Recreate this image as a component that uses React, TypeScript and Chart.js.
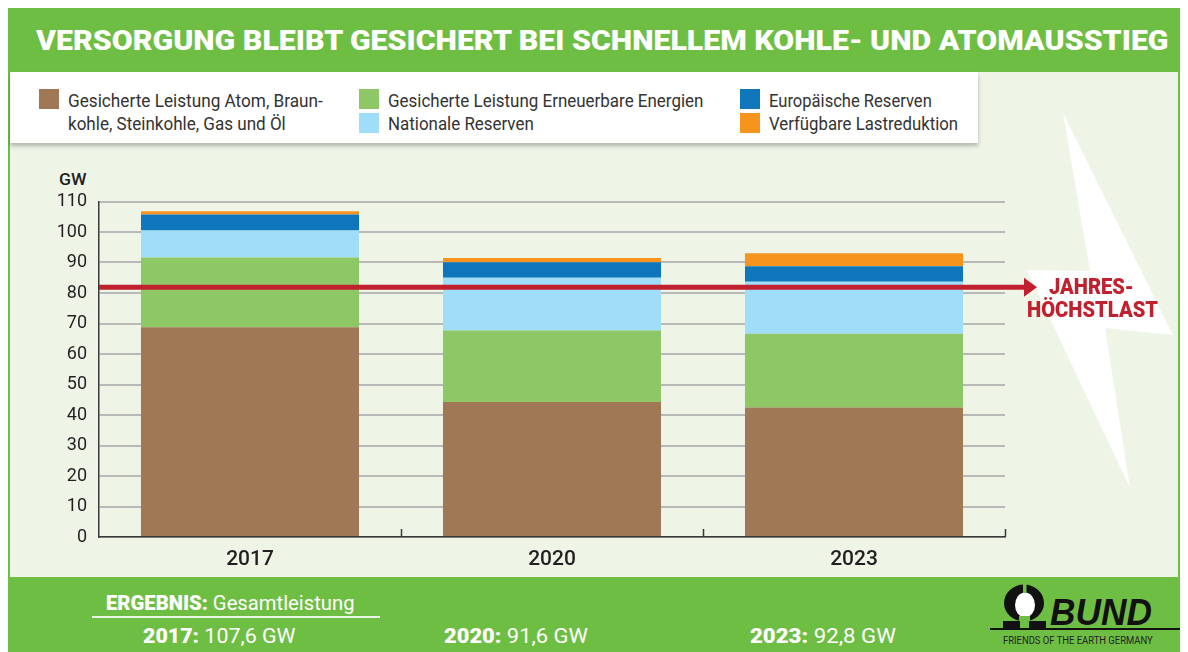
import React, { useEffect, useLayoutEffect, useRef, useState } from "react";
import { Chart, registerables } from "chart.js";

Chart.register(...registerables);

// ---------- data ----------
const years = ["2017", "2020", "2023"];
const fossil = [68.8, 44.3, 42.5];
const renewable = [22.8, 23.4, 24.1];
const nationalReserve = [8.9, 17.3, 17.1];
const europeanReserve = [5.2, 5.1, 5.1];
const loadReduction = [1.1, 1.4, 4.2];
const peakLoad = 81.9;
const totals = ["107,6", "91,6", "92,8"];
const yMax = 110;
const yStep = 10;

const seriesLabels = [
  "Gesicherte Leistung Atom, Braun-\nkohle, Steinkohle, Gas und Öl",
  "Gesicherte Leistung Erneuerbare Energien",
  "Nationale Reserven",
  "Europäische Reserven",
  "Verfügbare Lastreduktion",
];
const seriesColors = ["#a07855", "#8ec866", "#a0ddf8", "#1076bb", "#f7941d"];
const seriesValues = [fossil, renewable, nationalReserve, europeanReserve, loadReduction];

const GREEN = "#6fbe44";
const PLOT_BG = "#eef5e7";
const RED = "#c1202f";
const INK = "#231f20";

type FitProps = {
  x: number;
  y: number;
  w: number;
  style?: React.CSSProperties;
  children: React.ReactNode;
};

function FitText({ x, y, w, style, children }: FitProps) {
  const ref = useRef<HTMLSpanElement>(null);
  const [sx, setSx] = useState(1);
  useLayoutEffect(() => {
    const el = ref.current;
    if (!el) return;
    const nat = el.offsetWidth;
    if (nat > 0) setSx(w / nat);
  }, [w]);
  return (
    <span
      ref={ref}
      style={{
        position: "absolute",
        left: x,
        top: y,
        whiteSpace: "nowrap",
        lineHeight: 1,
        transform: `translateY(-50%) scaleX(${sx})`,
        transformOrigin: "left center",
        ...style,
      }}
    >
      {children}
    </span>
  );
}

const decorPlugin = {
  id: "decor",
  afterDatasetsDraw(chart: any) {
    const { ctx, chartArea } = chart;
    const yScale = chart.scales.y;
    const n = years.length;
    const cw = (chartArea.right - chartArea.left) / n;
    ctx.save();
    // category boundary ticks (upwards)
    ctx.strokeStyle = "#3a3a3a";
    ctx.lineWidth = 1.5;
    for (let i = 1; i <= n; i++) {
      const x = Math.round(chartArea.left + i * cw) + 0.5;
      ctx.beginPath();
      ctx.moveTo(x, chartArea.bottom);
      ctx.lineTo(x, chartArea.bottom - 8);
      ctx.stroke();
    }
    // peak load line with arrow
    const y = yScale.getPixelForValue(peakLoad);
    const xEnd = chartArea.right + 20;
    ctx.strokeStyle = RED;
    ctx.lineWidth = 5;
    ctx.beginPath();
    ctx.moveTo(chartArea.left, y);
    ctx.lineTo(xEnd, y);
    ctx.stroke();
    ctx.fillStyle = RED;
    ctx.beginPath();
    ctx.moveTo(xEnd - 1, y - 9.5);
    ctx.lineTo(xEnd + 12, y);
    ctx.lineTo(xEnd - 1, y + 9.5);
    ctx.closePath();
    ctx.fill();
    ctx.restore();
  },
};

function BarChart() {
  const ref = useRef<HTMLCanvasElement>(null);
  useEffect(() => {
    if (!ref.current) return;
    const chart = new Chart(ref.current, {
      type: "bar",
      data: {
        labels: years,
        datasets: seriesValues.map((vals, i) => ({
          label: seriesLabels[i].replace("\n", ""),
          data: vals,
          backgroundColor: seriesColors[i],
          borderWidth: 0,
          barPercentage: 0.722,
          categoryPercentage: 1,
          stack: "s",
        })),
      },
      options: {
        animation: false,
        responsive: false,
        layout: { padding: { left: 0, top: 57.5, right: 173, bottom: 0 } },
        plugins: { legend: { display: false }, tooltip: { enabled: false } },
        scales: {
          x: {
            stacked: true,
            grid: { display: false, drawTicks: false },
            border: { color: "#3a3a3a", width: 1.5 },
            ticks: {
              color: INK,
              font: { family: "Roboto", size: 21, weight: "500" },
              padding: 10,
            },
            afterFit: (s: any) => {
              s.height = 40;
            },
          },
          y: {
            stacked: true,
            min: 0,
            max: yMax,
            grid: { color: "#b9b9b9", lineWidth: 2, drawTicks: false },
            border: { color: "#3a3a3a", width: 1.5 },
            ticks: {
              stepSize: yStep,
              color: INK,
              font: { family: "Roboto", size: 18 },
              padding: 12,
            },
            afterFit: (s: any) => {
              s.width = 89;
            },
          },
        },
      },
      plugins: [decorPlugin],
    });
    return () => chart.destroy();
  }, []);
  return (
    <canvas
      ref={ref}
      width={1168}
      height={433}
      style={{ position: "absolute", left: 2, top: 136, width: 1168, height: 433 }}
    />
  );
}

export default function App() {
  const legendPos = [
    { col: 0, row: 0 },
    { col: 1, row: 0 },
    { col: 1, row: 1 },
    { col: 2, row: 0 },
    { col: 2, row: 1 },
  ];
  const colSquareX = [31, 351, 731.5];
  const colTextX = [60, 380, 761];
  const rowSquareY = [81, 105];
  const rowTextY = [92, 115];
  const legendWidths = [[255, 218], [315], [146], [163], [189]];
  const totalX = [135, 436, 742];
  const totalW = [153, 143.5, 145.5];

  return (
    <div
      style={{
        position: "relative",
        width: 1172,
        height: 644,
        background: GREEN,
        overflow: "hidden",
        fontFamily: "Roboto, 'Open Sans', sans-serif",
      }}
    >
      {/* title */}
      <FitText x={28} y={33} w={1132} style={{ color: "#fff", fontWeight: 900, fontSize: 27 }}>
        VERSORGUNG BLEIBT GESICHERT BEI SCHNELLEM KOHLE- UND ATOMAUSSTIEG
      </FitText>

      {/* plot background */}
      <div style={{ position: "absolute", left: 2, top: 64, width: 1168, height: 505, background: PLOT_BG }} />

      {/* lightning bolt + logo shapes */}
      <svg width={1172} height={644} style={{ position: "absolute", left: 0, top: 0 }}>
        <polygon points="1055,105 1165,327 1097,320 1122,480 1019,262 1082,263" fill="#ffffff" />
        <ellipse cx={1016} cy={595} rx={20} ry={18.5} fill="#111" />
        <ellipse cx={1017} cy={597} rx={10} ry={12.5} fill="#ffffff" />
        <rect x={1015} y={575} width={3.5} height={10} fill={GREEN} />
        <rect x={1011} y={608} width={11} height={14} fill={GREEN} />
        <rect x={995} y={613} width={17} height={8} fill="#111" />
        <rect x={1021} y={613} width={17} height={8} fill="#111" />
        <rect x={982} y={620} width={192} height={2} fill="#111" />
      </svg>

      {/* legend box */}
      <div
        style={{
          position: "absolute",
          left: 2,
          top: 64,
          width: 968,
          height: 71,
          background: "#fff",
          boxShadow: "0 3px 4px rgba(0,0,0,0.25)",
        }}
      />
      {seriesLabels.map((lab, i) => {
        const p = legendPos[i];
        const lines = lab.split("\n");
        return (
          <React.Fragment key={i}>
            <div
              style={{
                position: "absolute",
                left: colSquareX[p.col],
                top: rowSquareY[p.row],
                width: 20,
                height: 20,
                background: seriesColors[i],
              }}
            />
            {lines.map((ln, j) => (
              <FitText
                key={j}
                x={colTextX[p.col]}
                y={rowTextY[p.row + j]}
                w={legendWidths[i][j]}
                style={{ color: "#333", fontSize: 19 }}
              >
                {ln}
              </FitText>
            ))}
          </React.Fragment>
        );
      })}

      <FitText x={51} y={171} w={28} style={{ color: INK, fontSize: 17, fontWeight: 500 }}>
        GW
      </FitText>

      <BarChart />

      <FitText x={1041} y={279} w={85} style={{ color: RED, fontWeight: 900, fontSize: 22 }}>
        JAHRES-
      </FitText>
      <FitText x={1019} y={302} w={131} style={{ color: RED, fontWeight: 900, fontSize: 22 }}>
        HÖCHSTLAST
      </FitText>

      {/* bottom results */}
      <FitText x={98} y={595} w={249} style={{ color: "#fff", fontSize: 20 }}>
        <b style={{ fontWeight: 900 }}>ERGEBNIS:</b> Gesamtleistung
      </FitText>
      <div style={{ position: "absolute", left: 84, top: 608, width: 288, height: 1.5, background: "rgba(255,255,255,0.85)" }} />
      {years.map((yr, i) => (
        <FitText key={yr} x={totalX[i]} y={628} w={totalW[i]} style={{ color: "#fff", fontSize: 20 }}>
          <b style={{ fontWeight: 900 }}>{yr}:</b> {totals[i]} GW
        </FitText>
      ))}

      {/* logo text */}
      <FitText
        x={1042}
        y={603.5}
        w={102}
        style={{ color: "#111", fontWeight: 900, fontStyle: "italic", fontSize: 37, fontFamily: "'Liberation Sans', Arial, sans-serif" }}
      >
        BUND
      </FitText>
      <FitText x={995} y={633} w={150} style={{ color: "#222", fontSize: 10.5 }}>
        FRIENDS OF THE EARTH GERMANY
      </FitText>
    </div>
  );
}
